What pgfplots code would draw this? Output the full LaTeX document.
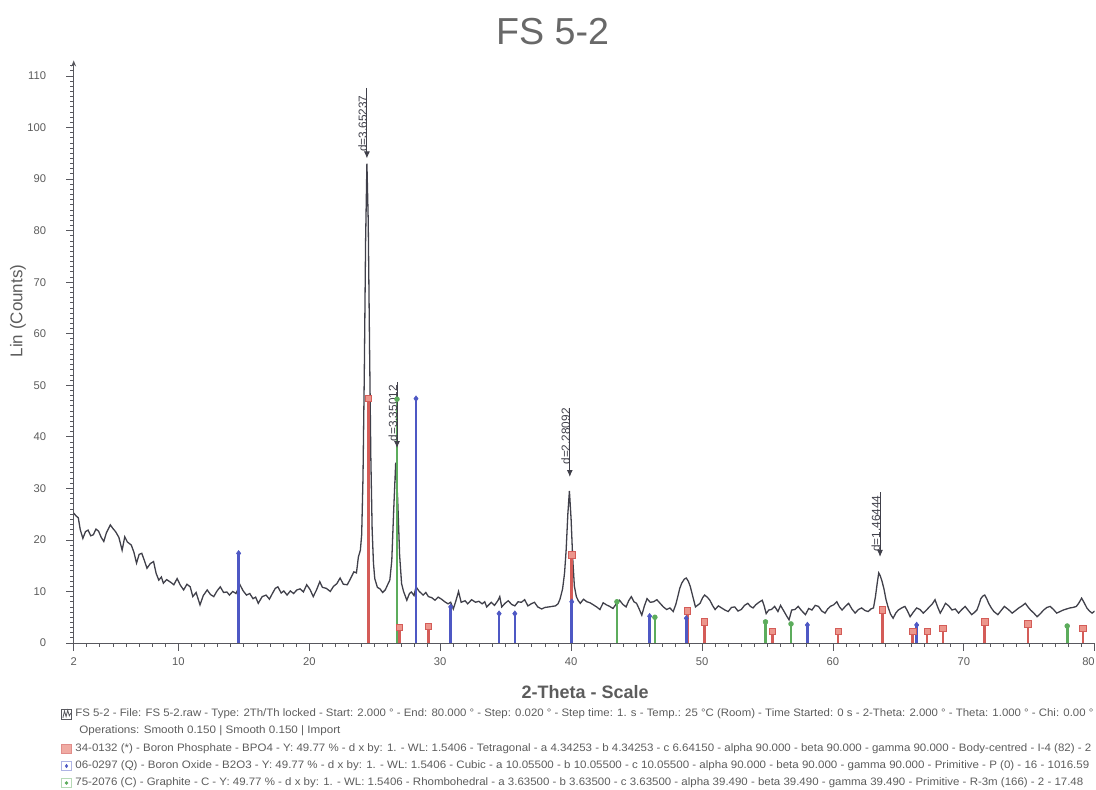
\documentclass[border=0pt]{standalone}
\usepackage{pgfplots}
\pgfplotsset{compat=1.18}
\usepackage{graphicx}
\usepackage{fontspec}
\setmainfont{Liberation Sans}
\usetikzlibrary{arrows.meta}

\definecolor{curve}{RGB}{64,64,74}
\definecolor{bpo}{RGB}{212,92,88}
\definecolor{bpofill}{RGB}{236,150,140}
\definecolor{bo}{RGB}{78,88,196}
\definecolor{gr}{RGB}{92,172,92}
\definecolor{txt}{RGB}{92,92,92}
\definecolor{titlec}{RGB}{104,104,104}
\definecolor{axc}{RGB}{88,88,94}

\newsavebox\fitbox
% set #2 and stretch it horizontally to #1 (pt)
\newcommand{\fitto}[2]{\sbox\fitbox{#2}\pgfmathsetmacro\fitsc{#1/\the\wd\fitbox}\scalebox{\fitsc}[1]{\usebox\fitbox}}

\begin{document}
\begin{tikzpicture}[x=1pt,y=1pt,
    annot/.style={draw=curve, line width=0.5pt, -{Latex[length=3.5pt,width=3pt]}},
    dlab/.style={rotate=90, anchor=base west, inner sep=0pt, xshift=-0.9pt, font=\fontsize{5.9}{6}\selectfont, text=curve}]
\useasboundingbox (-36.85,-73) rectangle (511.15,321.5);
\begin{axis}[
    at={(0,0)}, anchor=south west,
    scale only axis, width=510.5pt, height=291.26pt,
    xmin=2, xmax=80, ymin=0, ymax=113,
    axis x line=bottom, axis y line=left,
    every outer x axis line/.append style={-, axc, line width=0.5pt},
    every outer y axis line/.append style={-{Stealth[length=3pt,width=2.4pt]}, axc, line width=0.5pt},
    xtick={2,10,20,...,80}, minor xtick={3,...,79},
    xticklabels={2,10,20,30,40,50,60,70,\makebox[0pt][r]{80}},
    ytick={0,10,...,110}, minor ytick={1,...,112},
    tick align=outside,
    major tick length=3.8pt, minor tick length=1.8pt,
    every tick/.style={axc, line width=0.4pt},
    /pgf/number format/assume math mode=true,
    tick label style={font=\fontsize{5.6}{6}\selectfont, text=txt},
    yticklabel style={xshift=-6.5pt},
    title={FS 5-2},
    every axis title shift=0pt,
    title style={at={(axis description cs:0.469,1.0494)}, anchor=center, font=\fontsize{18.8}{20}\selectfont, text=titlec},
    xlabel={2-Theta - Scale},
    xlabel style={at={(axis description cs:0.501,-0.0841)}, anchor=center, font=\bfseries\fontsize{9}{10}\selectfont, text=txt},
    ylabel={Lin (Counts)},
    ylabel style={at={(axis description cs:-0.0546,0.570)}, anchor=center, font=\fontsize{8.5}{10}\selectfont, text=txt},
]
% measured pattern FS 5-2
\addplot[curve, line width=0.65pt, mark=none] coordinates {
(2.0,25.2) (2.2,24.6) (2.35,24.3) (2.5,22.0) (2.7,20.3) (2.9,21.6) (3.1,21.9) (3.3,20.8)
(3.5,21.0) (3.7,22.1) (3.9,21.7) (4.1,20.5) (4.3,19.7) (4.5,21.4) (4.8,22.9) (5.0,22.2)
(5.2,21.6) (5.45,20.5) (5.7,18.0) (5.9,20.6) (6.1,19.6) (6.4,19.0) (6.6,17.6) (6.8,15.5)
(7.0,17.2) (7.2,17.4) (7.4,16.0) (7.6,14.5) (7.85,15.4) (8.1,15.8) (8.3,13.5) (8.5,12.2)
(8.7,12.8) (8.85,11.6) (9.1,12.3) (9.4,11.8) (9.65,11.3) (9.9,12.5) (10.15,11.2) (10.4,10.3)
(10.65,11.4) (10.9,10.9) (11.1,9.0) (11.35,9.8) (11.65,7.4) (11.9,9.2) (12.2,10.3) (12.45,9.4)
(12.7,9.0) (12.95,10.1) (13.2,10.9) (13.45,9.8) (13.7,9.9) (13.9,9.3) (14.15,10.0) (14.4,9.6)
(14.7,11.3) (14.95,10.1) (15.2,9.3) (15.45,9.6) (15.7,8.6) (15.9,8.9) (16.1,7.7) (16.4,9.0)
(16.7,9.3) (16.95,8.5) (17.2,9.7) (17.4,10.6) (17.6,10.9) (17.85,9.7) (18.05,10.1) (18.3,9.3)
(18.55,10.1) (18.8,9.6) (19.05,10.3) (19.3,10.5) (19.55,9.9) (19.8,11.3) (20.05,10.4) (20.3,9.0)
(20.55,10.3) (20.8,11.9) (21.0,10.8) (21.3,10.6) (21.6,10.0) (21.85,11.0) (22.1,11.5) (22.35,12.6)
(22.6,11.4) (22.9,11.3) (23.15,12.5) (23.4,13.8) (23.6,13.6) (23.75,16.7) (23.9,18.0) (24.0,21)
(24.1,32) (24.2,52) (24.3,78) (24.4,93) (24.5,82) (24.6,58) (24.7,36) (24.8,22)
(24.9,15.5) (25.0,12.5) (25.2,10.8) (25.4,10.5) (25.6,9.8) (25.8,10.3) (26.0,11.4) (26.15,12.2)
(26.3,16) (26.45,26) (26.6,35) (26.75,28) (26.9,17) (27.05,11.5) (27.2,10.0) (27.45,8.3)
(27.65,9.6) (27.8,9.9) (28.0,9.2) (28.15,10.9) (28.4,10.0) (28.7,9.3) (28.9,9.8) (29.1,9.0)
(29.35,8.8) (29.6,8.3) (29.85,8.9) (30.1,8.5) (30.35,8.0) (30.6,7.6) (30.8,7.9) (31.0,6.6)
(31.2,8.2) (31.4,10.0) (31.6,7.9) (31.9,8.2) (32.1,7.6) (32.4,8.4) (32.7,7.9) (32.95,8.1)
(33.2,7.6) (33.4,8.0) (33.55,7.0) (33.75,7.5) (33.9,7.9) (34.15,7.3) (34.4,8.2) (34.55,9.0)
(34.7,7.0) (34.95,7.7) (35.2,8.2) (35.45,7.5) (35.7,7.2) (35.95,8.0) (36.2,7.9) (36.45,8.4)
(36.7,7.2) (36.95,7.6) (37.2,7.9) (37.45,7.0) (37.75,6.6) (38.0,6.9) (38.3,7.0) (38.55,7.1)
(38.8,7.2) (39.0,7.6) (39.15,8.5) (39.35,10.5) (39.5,13.6) (39.62,18) (39.75,25) (39.87,29.5)
(40.0,24) (40.12,16.5) (40.25,11.0) (40.4,9.0) (40.55,8.2) (40.7,7.7) (40.95,8.5) (41.2,8.0)
(41.45,7.8) (41.7,7.4) (41.95,7.0) (42.2,6.5) (42.45,7.8) (42.7,7.4) (42.95,7.1) (43.2,6.7)
(43.45,7.6) (43.7,8.3) (43.95,7.5) (44.2,7.0) (44.4,8.2) (44.6,9.0) (44.8,8.0) (45.0,7.7)
(45.2,6.6) (45.4,5.4) (45.6,7.2) (45.8,8.6) (46.05,7.9) (46.3,8.0) (46.55,8.4) (46.8,7.7)
(47.05,7.0) (47.3,6.5) (47.55,6.8) (47.8,6.1) (48.0,7.5) (48.15,9.0) (48.3,10.6) (48.45,11.6)
(48.65,12.4) (48.8,12.6) (48.95,12.0) (49.1,11.0) (49.3,9.0) (49.5,7.0) (49.7,7.4) (49.85,7.7)
(50.05,8.8) (50.2,9.3) (50.4,8.9) (50.6,8.3) (50.8,7.3) (51.0,6.5) (51.25,7.2) (51.5,6.8)
(51.75,6.4) (52.0,6.1) (52.25,6.9) (52.5,7.0) (52.75,6.2) (53.0,6.5) (53.25,7.3) (53.5,7.7)
(53.7,7.1) (53.9,6.8) (54.1,7.4) (54.35,7.9) (54.6,8.3) (54.75,7.2) (54.9,5.7) (55.1,6.4)
(55.3,6.5) (55.55,7.1) (55.8,6.1) (56.0,7.3) (56.25,6.2) (56.5,5.1) (56.65,4.5) (56.85,6.4)
(57.1,6.5) (57.35,7.1) (57.6,6.3) (57.9,5.5) (58.15,6.7) (58.4,6.4) (58.65,7.3) (58.9,7.1)
(59.15,6.2) (59.4,5.8) (59.6,6.6) (59.8,7.1) (60.05,7.4) (60.3,8.0) (60.5,7.0) (60.7,6.4)
(60.95,7.1) (61.2,7.7) (61.45,6.6) (61.7,5.8) (61.95,6.5) (62.2,6.8) (62.45,6.3) (62.7,6.1)
(62.9,6.6) (63.1,6.8) (63.25,9.0) (63.38,11.5) (63.5,13.6) (63.62,13.0) (63.75,12.0) (63.9,10.5)
(64.05,8.5) (64.2,7.1) (64.4,5.6) (64.6,4.8) (64.8,5.8) (65.0,6.4) (65.25,6.8) (65.5,7.1)
(65.7,6.2) (65.9,5.1) (66.15,6.0) (66.4,6.8) (66.65,6.5) (66.9,5.8) (67.15,6.4) (67.4,7.1)
(67.6,7.6) (67.8,8.4) (68.0,7.0) (68.2,5.8) (68.4,6.7) (68.6,7.7) (68.85,7.2) (69.1,6.4)
(69.35,6.6) (69.6,5.8) (69.85,6.5) (70.1,7.1) (70.35,6.3) (70.6,5.5) (70.8,5.9) (71.0,6.4)
(71.15,7.4) (71.3,8.6) (71.45,9.1) (71.6,9.3) (71.75,8.6) (71.9,7.7) (72.1,6.8) (72.3,6.1)
(72.6,5.5) (72.85,6.3) (73.1,7.1) (73.4,6.5) (73.7,5.8) (73.95,6.3) (74.2,6.8) (74.45,7.2)
(74.7,7.7) (74.9,7.0) (75.1,6.4) (75.35,5.8) (75.6,5.1) (75.85,5.7) (76.1,6.4) (76.35,6.9)
(76.6,7.1) (76.85,6.5) (77.1,5.8) (77.35,6.1) (77.6,6.4) (77.85,6.6) (78.1,6.8) (78.35,6.9)
(78.6,7.1) (78.8,7.8) (79.0,8.7) (79.2,7.8) (79.4,6.8) (79.6,6.2) (79.8,5.8) (80.0,6.2)
};
% 34-0132 Boron Phosphate
\addplot[ycomb, bpo, line width=1.3pt, mark=square*, mark size=1.6pt,
  mark options={fill=bpofill, draw=bpo, line width=0.4pt}] coordinates {
(24.5,47.5) (26.9,3.0) (29.1,3.2) (40.05,17.1) (48.9,6.2) (50.2,4.1) (55.4,2.3) (60.4,2.3)
(63.8,6.4) (66.1,2.3) (67.2,2.3) (68.4,2.8) (71.6,4.1) (74.9,3.7) (79.1,2.8)
};
% 06-0297 Boron Oxide
\addplot[ycomb, bo, line width=1.3pt, mark=diamond*, mark size=1.4pt,
  mark options={fill=bo, draw=bo, line width=0.3pt}] coordinates {
(14.6,17.4) (28.15,47.4) (30.8,7.0) (34.5,5.7) (35.7,5.7) (40.05,8.0) (46.0,5.2) (48.8,4.8)
(58.05,3.5) (66.4,3.5)
};
% 75-2076 Graphite
\addplot[ycomb, gr, line width=1.3pt, mark=*, mark size=1.2pt,
  mark options={fill=gr, draw=gr, line width=0.3pt}] coordinates {
(26.7,47.3) (43.5,8.0) (46.4,5.0) (54.85,4.1) (56.8,3.7) (77.9,3.3)
};
% peak labels
\draw[annot] (axis cs:24.4,107.7) -- (axis cs:24.4,94.0);
\node[dlab] at (axis cs:24.4,95.6) {d=3.65237};
\draw[annot] (axis cs:26.7,50.6) -- (axis cs:26.7,37.8);
\node[dlab] at (axis cs:26.7,39.4) {d=3.35012};
\draw[annot] (axis cs:39.9,45.6) -- (axis cs:39.9,32.2);
\node[dlab] at (axis cs:39.9,34.9) {d=2.28092};
\draw[annot] (axis cs:63.6,29.2) -- (axis cs:63.6,16.7);
\node[dlab] at (axis cs:63.6,18.0) {d=1.46444};
\end{axis}

% scan and phase legend
\begin{scope}[every node/.style={anchor=west, inner sep=0pt, text=txt, font=\fontsize{5.4}{6}\selectfont}]
\draw[axc, line width=0.4pt] (-5.9,-38) rectangle (-0.9,-33);
\draw[axc, line width=0.4pt] (-5.4,-37.4) -- (-4.6,-34.0) -- (-3.8,-36.8) -- (-3.0,-33.6) -- (-2.2,-36.4) -- (-1.4,-35.0);
\node at (0.65,-35.5) {\fitto{509}{FS 5-2 - File: FS 5-2.raw - Type: 2Th/Th locked - Start: 2.000 ° - End: 80.000 ° - Step: 0.020 ° - Step time: 1. s - Temp.: 25 °C (Room) - Time Started: 0 s - 2-Theta: 2.000 ° - Theta: 1.000 ° - Chi: 0.00 °}};
\node at (2.65,-44) {\fitto{130.5}{Operations: Smooth 0.150 | Smooth 0.150 | Import}};
\draw[bpo!70, line width=0.4pt, fill=bpofill!80] (-5.9,-55.3) rectangle (-1.3,-50.7);
\node at (0.65,-53) {\fitto{508}{34-0132 (*) - Boron Phosphate - BPO4 - Y: 49.77 \% - d x by: 1. - WL: 1.5406 - Tetragonal - a 4.34253 - b 4.34253 - c 6.64150 - alpha 90.000 - beta 90.000 - gamma 90.000 - Body-centred - I-4 (82) - 2}};
\draw[bo!45, line width=0.4pt, fill=white] (-5.9,-63.8) rectangle (-1.3,-59.2);
\fill[bo] (-3.6,-62.6) -- (-2.8,-61.5) -- (-3.6,-60.4) -- (-4.4,-61.5) -- cycle;
\node at (0.65,-61.5) {\fitto{507}{06-0297 (Q) - Boron Oxide - B2O3 - Y: 49.77 \% - d x by: 1. - WL: 1.5406 - Cubic - a 10.05500 - b 10.05500 - c 10.05500 - alpha 90.000 - beta 90.000 - gamma 90.000 - Primitive - P (0) - 16 - 1016.59}};
\draw[gr!45, line width=0.4pt, fill=white] (-5.9,-72.3) rectangle (-1.3,-67.7);
\fill[gr] (-3.6,-70) circle (0.9);
\node at (0.65,-70) {\fitto{504}{75-2076 (C) - Graphite - C - Y: 49.77 \% - d x by: 1. - WL: 1.5406 - Rhombohedral - a 3.63500 - b 3.63500 - c 3.63500 - alpha 39.490 - beta 39.490 - gamma 39.490 - Primitive - R-3m (166) - 2 - 17.48}};
\end{scope}
\end{tikzpicture}
\end{document}
